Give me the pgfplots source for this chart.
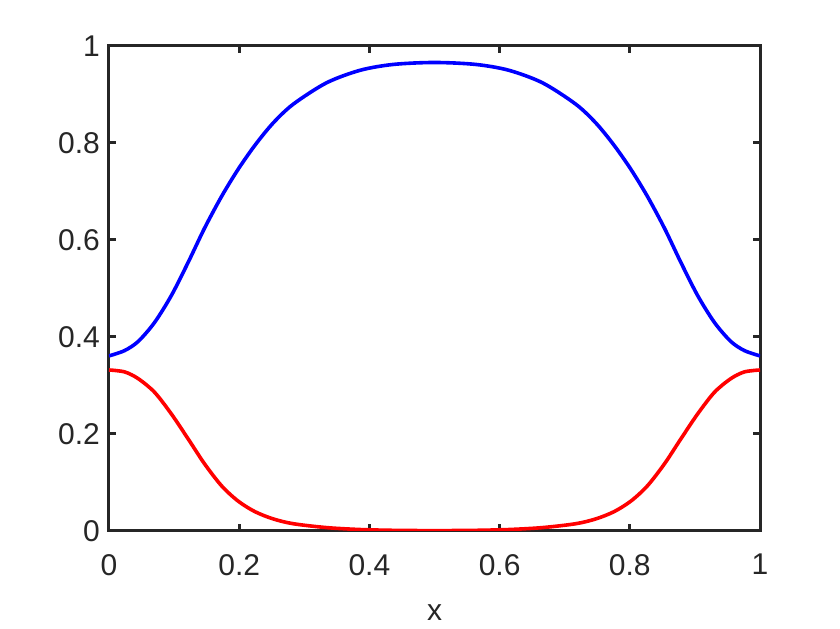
\documentclass[border=0pt]{standalone}
\usepackage{fontspec}
\setmainfont{Liberation Sans}
\usepackage{pgfplots}
\pgfplotsset{compat=1.18}
\definecolor{axgray}{rgb}{0.15,0.15,0.15}

\pgfplotstableread{
x y
0     0.361
0.024 0.372
0.045 0.391
0.070 0.430
0.096 0.486
0.122 0.555
0.147 0.625
0.173 0.690
0.198 0.745
0.224 0.795
0.252 0.841
0.283 0.880
0.334 0.924
0.386 0.950
0.437 0.962
0.500 0.966
0.563 0.962
0.614 0.950
0.666 0.924
0.717 0.880
0.748 0.841
0.776 0.795
0.802 0.745
0.827 0.690
0.853 0.625
0.878 0.555
0.904 0.486
0.930 0.430
0.955 0.391
0.976 0.372
1     0.361
}\blue

\pgfplotstableread{
x y
0     0.332
0.024 0.328
0.045 0.314
0.070 0.286
0.096 0.241
0.122 0.189
0.147 0.138
0.173 0.093
0.198 0.062
0.224 0.040
0.252 0.025
0.283 0.015
0.334 0.007
0.386 0.003
0.440 0.0013
0.500 0.0008
0.560 0.0013
0.614 0.003
0.666 0.007
0.717 0.015
0.748 0.025
0.776 0.040
0.802 0.062
0.827 0.093
0.853 0.138
0.878 0.189
0.904 0.241
0.930 0.286
0.955 0.314
0.976 0.328
1     0.332
}\red

\begin{document}
\begin{tikzpicture}
\begin{axis}[
  scale only axis,
  width=325.5pt, height=242.5pt,
  xmin=0, xmax=1, ymin=0, ymax=1,
  xtick={0,0.2,...,1}, ytick={0,0.2,...,1},
  axis line style={axgray, line width=1.5pt},
  tick style={axgray, line width=1.5pt},
  major tick length=3.5pt,
  tick align=inside,
  tick label style={font=\fontsize{15}{18}\selectfont, text=axgray},
  /pgf/number format/assume math mode=true,
  xticklabel style={yshift=-8pt},
  yticklabel style={xshift=-1pt},
  xlabel={x},
  label style={font=\fontsize{15}{18}\selectfont, text=axgray},
  xlabel style={yshift=-8pt},
]
\addplot[blue, line width=1.8pt, smooth] table {\blue};
\addplot[red, line width=1.8pt, smooth] table {\red};
\end{axis}
\path ([shift={(-54.5pt,-49pt)}]current axis.south west) rectangle ([shift={(40pt,23pt)}]current axis.north east);
\end{tikzpicture}
\end{document}
